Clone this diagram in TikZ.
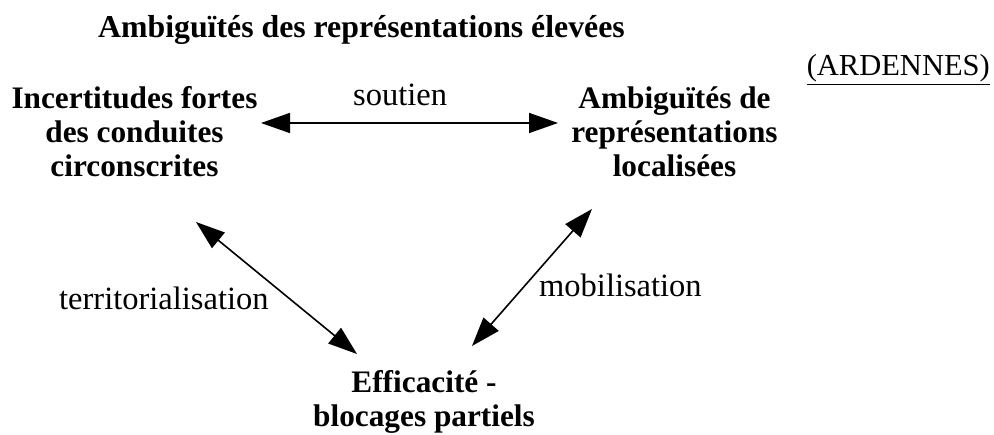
\documentclass[tikz,border=0pt]{standalone}
\usepackage{fontspec}
\setmainfont{Liberation Serif}
\usetikzlibrary{arrows.meta}
\begin{document}
\begin{tikzpicture}[x=1pt,y=-1pt,
  heading/.style={font=\fontsize{31.8}{34}\selectfont\bfseries, inner sep=0pt, anchor=base},
  % multi-line nodes: the base anchor sits on the last line's baseline
  concept/.style={font=\fontsize{31.3}{34}\selectfont\bfseries, align=center, inner sep=0pt, anchor=base},
  relation/.style={font=\fontsize{32.5}{36}\selectfont, inner sep=0pt, anchor=base west},
  region/.style={font=\fontsize{30.5}{34}\selectfont, inner sep=0pt, anchor=base east},
  link/.style={line width=1.6pt,
    {Triangle[length=29pt,width=20pt]}-{Triangle[length=29pt,width=20pt]}},
]
\useasboundingbox (0,0) rectangle (994,435);

% headings
\node[heading] (title) at (361.5,38) {Ambiguïtés des représentations élevées};
\node[region] (ardennes) at (990,76) {\underline{(ARDENNES)}};

% the three poles
\node[concept] (conduites) at (134.5,177)
  {Incertitudes fortes\\des conduites\\circonscrites};
\node[concept] (ambig) at (674.5,177)
  {Ambiguïtés de\\représentations\\localisées};
\node[concept] (effic) at (424,427)
  {Efficacité -\\blocages partiels};

% arrow end points
\coordinate (s1) at (261,123);
\coordinate (s2) at (558,123);
\coordinate (t1) at (196,222);
\coordinate (t2) at (357,354);
\coordinate (m1) at (592,209);
\coordinate (m2) at (472,346);

\draw[link] (s1) -- (s2);
\draw[link] (t1) -- (t2);
\draw[link] (m2) -- (m1);

% relation labels
\node[relation] (soutien) at (353,106) {soutien};
\node[relation] (territ) at (59,310) {territorialisation};
\node[relation] (mobil) at (539,297) {mobilisation};
\end{tikzpicture}
\end{document}
